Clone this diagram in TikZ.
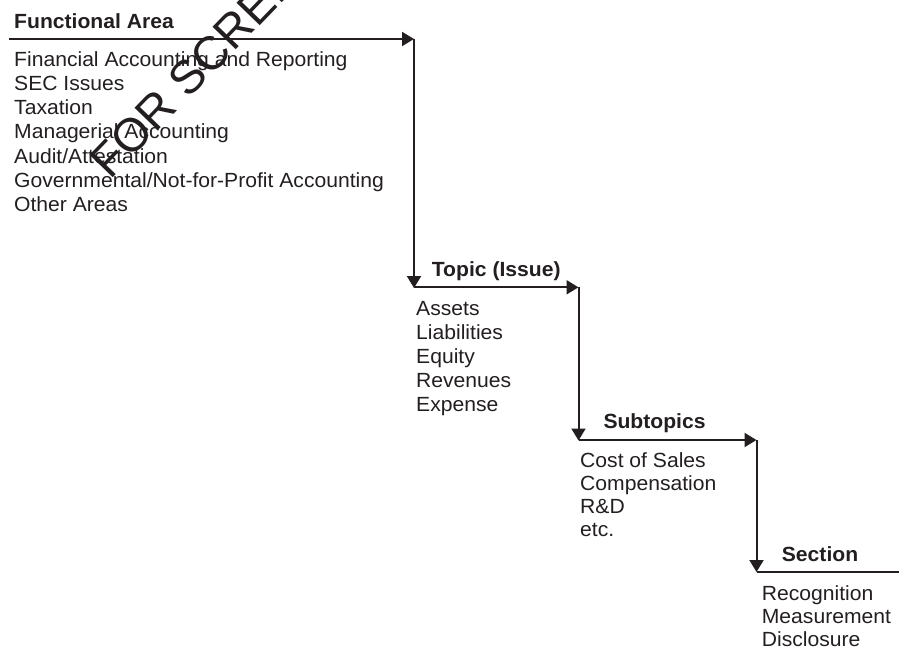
\documentclass[tikz,border=0pt]{standalone}
\usepackage{fontspec}
\setmainfont{Liberation Sans}[FakeStretch=1.03]
\newfontfamily\wmfont{Liberation Sans}
\usetikzlibrary{arrows.meta}
\definecolor{ink}{RGB}{35,31,32}
\begin{document}
\begin{tikzpicture}[x=1pt,y=-1pt,
  conn/.style={draw=ink, line width=2pt},
  arr/.style={conn, -{Triangle[length=12pt,width=14pt]}},
  head/.style={anchor=base west, inner sep=0pt, text=ink, font=\fontsize{20.5}{24}\selectfont\bfseries},
  item/.style={anchor=base west, inner sep=0pt, text=ink, font=\fontsize{20.5}{24}\selectfont},
  wmark/.style={anchor=base west, inner sep=0pt, text=ink, rotate=46, font=\wmfont\fontsize{47}{50}\selectfont}
]
\clip (0,0) rectangle (899,647);
% corners
\coordinate (s0) at (9,39);
\coordinate (c1) at (414,39);
\coordinate (c2) at (414,288);
\coordinate (c3) at (578.5,287.3);
\coordinate (c4) at (578.5,440.5);
\coordinate (c5) at (756.5,440);
\coordinate (c6) at (756.5,572);
\coordinate (e0) at (902,571.5);
% connectors
\draw[arr] (s0) -- (c1);
\draw[arr] (c1) -- (c2);
\draw[arr] (414,287.3) -- (c3);
\draw[arr] (c3) -- (c4);
\draw[arr] (578.5,440) -- (c5);
\draw[arr] (c5) -- (c6);
\draw[conn] (756.5,571.5) -- (e0);
% headings
\node[head] (h1) at (14,28.3) {Functional Area};
\node[head] (h2) at (431.7,276) {Topic (Issue)};
\node[head] (h3) at (603.3,428.3) {Subtopics};
\node[head] (h4) at (781.7,561.5) {Section};
% lists
\foreach \t [count=\i from 0] in {Financial Accounting and Reporting, SEC Issues, Taxation, Managerial Accounting, Audit/Attestation, Governmental/Not-for-Profit Accounting, Other Areas}
  \node[item] (fa\i) at (14,66.7+24.1*\i) {\t};
\foreach \t [count=\i from 0] in {Assets, Liabilities, Equity, Revenues, Expense}
  \node[item] (tp\i) at (416,315+24*\i) {\t};
\foreach \t [count=\i from 0] in {Cost of Sales, Compensation, R\&D, etc.}
  \node[item] (st\i) at (580,467.3+23*\i) {\t};
\foreach \t [count=\i from 0] in {Recognition, Measurement, Disclosure}
  \node[item] (sc\i) at (761.7,600+23*\i) {\t};
% watermark
\node[wmark] (wm) at (110.5,180.5) {FOR SCREE};
\end{tikzpicture}
\end{document}
